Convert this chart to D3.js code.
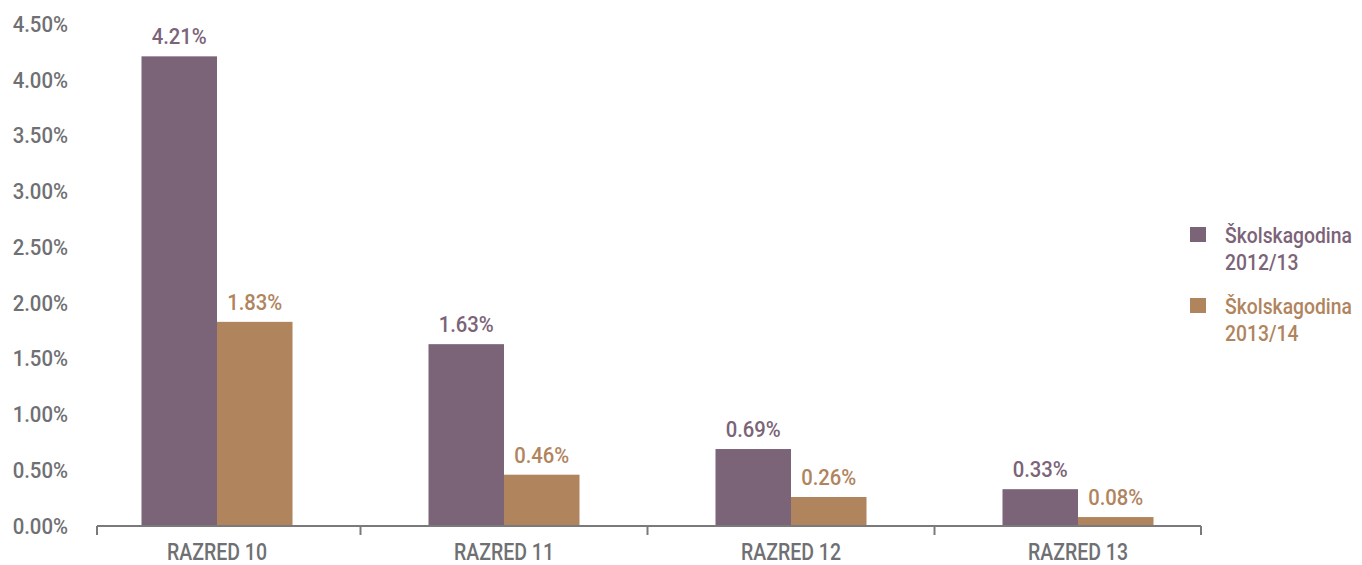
<!DOCTYPE html>
<html>
<head>
<meta charset="utf-8">
<script src="https://cdn.jsdelivr.net/npm/d3@7"></script>
<style>
  html, body { margin: 0; padding: 0; background: #fff; }
  svg { display: block; }
  text { font-family: Roboto, "Noto Sans", sans-serif; font-weight: 500; }
</style>
</head>
<body>
<svg id="chart" width="1362" height="565"></svg>
<script>
const categories = ["RAZRED 10", "RAZRED 11", "RAZRED 12", "RAZRED 13"];
const seriesNames = ["Školskagodina 2012/13", "Školskagodina 2013/14"];
const values2012 = [4.21, 1.63, 0.69, 0.33];
const values2013 = [1.83, 0.46, 0.26, 0.08];
const yTicks = [0, 0.5, 1, 1.5, 2, 2.5, 3, 3.5, 4, 4.5];

const colors = ["#7b6378", "#b0845d"];
const gray = "#6f7073";
const series = [values2012, values2013];

const svg = d3.select("#chart");
const axisLeft = 97, axisRight = 1201;
const y = d3.scaleLinear().domain([0, 4.5]).range([526, 24]);
const x = d3.scalePoint().domain(categories).range([217, 1078]);
const barW = 75.5;

// y tick labels
svg.append("g").selectAll("text").data(yTicks).join("text")
  .attr("transform", d => `translate(68,${y(d)}) scale(0.97,1.03)`)
  .attr("dy", "0.36em")
  .attr("text-anchor", "end").attr("fill", gray)
  .attr("font-size", 21)
  .text(d => d.toFixed(2) + "%");

// bars
series.forEach((vals, si) => {
  const g = svg.append("g");
  g.selectAll("rect").data(vals).join("rect")
    .attr("x", (d, i) => x(categories[i]) - barW + si * barW)
    .attr("width", barW)
    .attr("y", d => y(d))
    .attr("height", d => y(0) - y(d))
    .attr("fill", colors[si]);
  g.selectAll("text").data(vals).join("text")
    .attr("transform", (d, i) => `translate(${x(categories[i]) - barW / 2 + si * barW},${y(d) - 12}) scale(0.9,1)`)
    .attr("text-anchor", "middle").attr("fill", colors[si])
    .attr("font-size", 22.5)
    .text(d => d.toFixed(2) + "%");
});

// x axis line & boundary ticks
const step = x.step();
const boundaries = [axisLeft].concat(categories.slice(1).map(c => x(c) - step / 2)).concat([axisRight]);
svg.append("line")
  .attr("x1", axisLeft).attr("x2", axisRight)
  .attr("y1", y(0)).attr("y2", y(0))
  .attr("stroke", "#7a7a7c").attr("stroke-width", 2);
svg.append("g").selectAll("line").data(boundaries).join("line")
  .attr("x1", d => d).attr("x2", d => d)
  .attr("y1", y(0)).attr("y2", y(0) + 9)
  .attr("stroke", "#7a7a7c").attr("stroke-width", 2);

// category labels
svg.append("g").selectAll("text").data(categories).join("text")
  .attr("transform", d => `translate(${x(d)},560) scale(0.83,1)`)
  .attr("text-anchor", "middle").attr("fill", gray)
  .attr("font-size", 23.5)
  .text(d => d);

// legend
const legend = svg.append("g");
seriesNames.forEach((name, i) => {
  const top = 227 + i * 71;
  legend.append("rect")
    .attr("x", 1190).attr("y", top).attr("width", 16).attr("height", 15)
    .attr("fill", colors[i]);
  const parts = name.split(" ");
  parts.forEach((p, k) => {
    legend.append("text")
      .attr("transform", `translate(1225,${top + 15.5 + k * 27.5}) scale(0.92,1.05)`)
      .attr("fill", colors[i]).attr("font-size", 21)
      .text(p);
  });
});
</script>
</body>
</html>
